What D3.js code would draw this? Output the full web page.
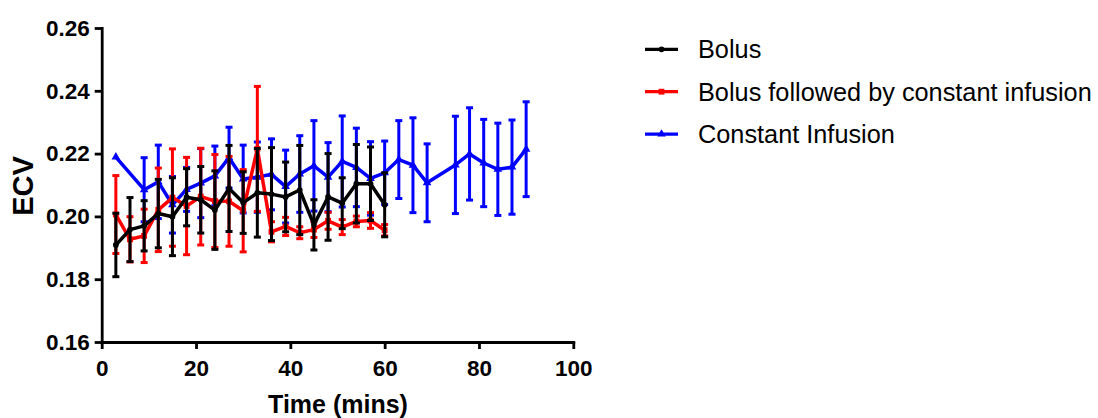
<!DOCTYPE html>
<html>
<head>
<meta charset="utf-8">
<script src="https://cdnjs.cloudflare.com/ajax/libs/d3/7.8.5/d3.min.js"></script>
<style>
    body { margin: 0; background: #fff; }
    svg { display: block; }
    .axis path, .axis line { stroke: #000; stroke-width: 2.8px; }
    .axis text { font-family: Arial, "Liberation Sans", sans-serif; font-weight: bold; font-size: 22.5px; fill: #000; }
    .axistext { font-family: Arial, "Liberation Sans", sans-serif; font-weight: bold; fill: #000; }
    .legendtext { font-family: Arial, "Liberation Sans", sans-serif; font-size: 25.3px; fill: #000; }
</style>
</head>
<body>
<div id="chart"></div>
<script>
// Bolus
var bolusTime = [3, 6, 9, 12, 15, 18, 21, 24, 27, 30, 33, 36, 39, 42, 45, 48, 51, 54, 57, 60];
var bolusEcv = [0.1909, 0.1958, 0.1970, 0.2009, 0.1999, 0.2061, 0.2053, 0.2020, 0.2089, 0.2044,
    0.2075, 0.2071, 0.2062, 0.2084, 0.1973, 0.2062, 0.2042, 0.2104, 0.2104, 0.2037];
var bolusErr = [0.0101, 0.0102, 0.0080, 0.0109, 0.0124, 0.0091, 0.0106, 0.0125, 0.0137, 0.0098,
    0.0141, 0.0148, 0.0111, 0.0142, 0.0080, 0.0138, 0.0081, 0.0125, 0.0117, 0.0102];

// Bolus followed by constant infusion
var infTime = [3, 6, 9, 12, 15, 18, 21, 24, 27, 30, 33, 36, 39, 42, 45, 48, 51, 54, 57, 60];
var infEcv = [0.2006, 0.1927, 0.1938, 0.2021, 0.2060, 0.2033, 0.2063, 0.2049, 0.2048, 0.2018,
    0.2215, 0.1951, 0.1968, 0.1948, 0.1958, 0.1986, 0.1966, 0.1984, 0.1987, 0.1956];
var infErr = [0.0124, 0.0072, 0.0085, 0.0133, 0.0155, 0.0155, 0.0154, 0.0148, 0.0143, 0.0131,
    0.0199, 0.0032, 0.0029, 0.0019, 0.0025, 0.0027, 0.0024, 0.0017, 0.0025, 0.0018];

// Constant Infusion
var ciTime = [3, 9, 12, 15, 18, 21, 24, 27, 30, 33, 36, 39, 42, 45, 48, 51, 54, 57, 60,
    63, 66, 69, 75, 78, 81, 84, 87, 90];
var ciEcv = [0.2189, 0.2085, 0.2110, 0.2037, 0.2086, 0.2106, 0.2129, 0.2187, 0.2119, 0.2125,
    0.2134, 0.2095, 0.2135, 0.2161, 0.2125, 0.2175, 0.2156, 0.2121, 0.2139,
    0.2181, 0.2163, 0.2107, 0.2164, 0.2199, 0.2170, 0.2150, 0.2157, 0.2214];
var ciErr = [0, 0.0102, 0.0117, 0.0090, 0.0070, 0.0110, 0.0095, 0.0097, 0.0108, 0.0112,
    0.0113, 0.0116, 0.0122, 0.0144, 0.0110, 0.0145, 0.0125, 0.0117, 0.0101,
    0.0124, 0.0151, 0.0124, 0.0155, 0.0147, 0.0139, 0.0147, 0.0150, 0.0151];

var xTicks = [0, 20, 40, 60, 80, 100];
var yTicks = [0.16, 0.18, 0.20, 0.22, 0.24, 0.26];

var series = [
    {name: "Constant Infusion", color: "#0000ff", marker: "triangle", t: ciTime, v: ciEcv, e: ciErr},
    {name: "Bolus followed by constant infusion", color: "#ff0000", marker: "square", t: infTime, v: infEcv, e: infErr},
    {name: "Bolus", color: "#000000", marker: "circle", t: bolusTime, v: bolusEcv, e: bolusErr}
];
var legendOrder = ["Bolus", "Bolus followed by constant infusion", "Constant Infusion"];

var width = 1098, height = 418;

var x = d3.scaleLinear().domain([0, 100]).range([101.7, 573.3]);
var y = d3.scaleLinear().domain([0.16, 0.26]).range([342, 28]);

var svg = d3.select("#chart").append("svg")
    .attr("width", width)
    .attr("height", height);

function markerPath(type) {
    if (type == "circle") return d3.symbol().type(d3.symbolCircle).size(26)();
    if (type == "square") return d3.symbol().type(d3.symbolSquare).size(34)();
    return d3.symbol().type(d3.symbolTriangle).size(32)();
}

series.forEach(function (s) {
    var data = s.t.map(function (t, i) {
        return {t: t, v: s.v[i], e: s.e[i]};
    });
    var g = svg.append("g");

    // error bars
    var bars = g.selectAll(".err")
        .data(data.filter(function (d) { return d.e > 0; }))
        .enter().append("g")
        .attr("stroke", s.color)
        .attr("stroke-width", 3);
    bars.append("line")
        .attr("x1", function (d) { return x(d.t); })
        .attr("x2", function (d) { return x(d.t); })
        .attr("y1", function (d) { return y(d.v + d.e); })
        .attr("y2", function (d) { return y(d.v - d.e); });
    bars.append("line")
        .attr("x1", function (d) { return x(d.t) - 3.5; })
        .attr("x2", function (d) { return x(d.t) + 3.5; })
        .attr("y1", function (d) { return y(d.v + d.e); })
        .attr("y2", function (d) { return y(d.v + d.e); });
    bars.append("line")
        .attr("x1", function (d) { return x(d.t) - 3.5; })
        .attr("x2", function (d) { return x(d.t) + 3.5; })
        .attr("y1", function (d) { return y(d.v - d.e); })
        .attr("y2", function (d) { return y(d.v - d.e); });

    var line = d3.line()
        .x(function (d) { return x(d.t); })
        .y(function (d) { return y(d.v); });

    g.append("path")
        .datum(data)
        .attr("fill", "none")
        .attr("stroke", s.color)
        .attr("stroke-width", 3.5)
        .attr("stroke-linejoin", "round")
        .attr("d", line);

    g.selectAll(".pt")
        .data(data)
        .enter().append("path")
        .attr("fill", s.color)
        .attr("transform", function (d) { return "translate(" + x(d.t) + "," + y(d.v) + ")"; })
        .attr("d", markerPath(s.marker));
});

// axes
svg.append("g")
    .attr("class", "axis")
    .attr("transform", "translate(0," + y(0.16) + ")")
    .call(d3.axisBottom(x).tickValues(xTicks).tickSize(7).tickSizeOuter(0).tickPadding(11));

svg.append("g")
    .attr("class", "axis")
    .attr("transform", "translate(" + x(0) + ",0)")
    .call(d3.axisLeft(y).tickValues(yTicks).tickSize(7).tickSizeOuter(0).tickPadding(5)
        .tickFormat(d3.format(".2f")));

svg.selectAll(".axis .domain").attr("stroke-linecap", "square");

svg.append("text")
    .attr("class", "axistext")
    .attr("x", 338)
    .attr("y", 413)
    .attr("text-anchor", "middle")
    .style("font-size", "25px")
    .text("Time (mins)");

svg.append("text")
    .attr("class", "axistext")
    .attr("transform", "translate(33,186) rotate(-90)")
    .attr("text-anchor", "middle")
    .style("font-size", "29px")
    .text("ECV");

// legend
var legend = svg.selectAll(".legend")
    .data(legendOrder)
    .enter().append("g")
    .attr("transform", function (d, i) { return "translate(645," + (49.3 + i * 42.4) + ")"; });

legend.each(function (name) {
    var s = series.filter(function (d) { return d.name == name; })[0];
    var el = d3.select(this);
    el.append("line")
        .attr("x1", 0).attr("x2", 33)
        .attr("stroke", s.color)
        .attr("stroke-width", 3.2);
    el.append("path")
        .attr("transform", "translate(16.5,0)")
        .attr("fill", s.color)
        .attr("d", markerPath(s.marker));
    el.append("text")
        .attr("class", "legendtext")
        .attr("x", 53)
        .attr("y", 9)
        .text(s.name);
});
</script>
</body>
</html>
